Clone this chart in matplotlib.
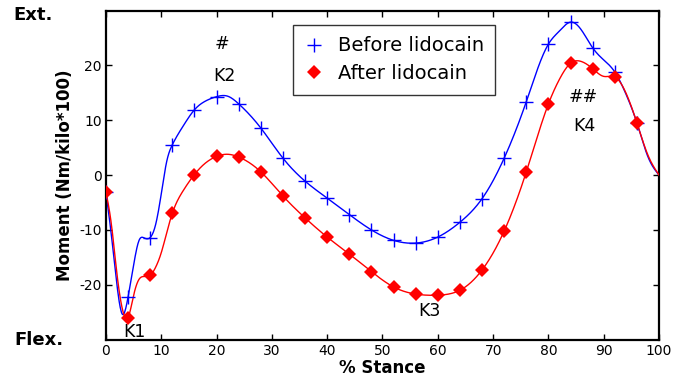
import numpy as np
import matplotlib
matplotlib.use('Agg')
import matplotlib.pyplot as plt
from matplotlib.lines import Line2D

stance = np.array([0, 1, 2, 3, 4, 5, 6, 7, 8, 9, 10, 11, 12, 14, 16, 18, 20, 22, 24,
                   28, 32, 36, 40, 44, 48, 52, 56, 60, 64, 68, 72, 76, 80, 82, 84,
                   86, 88, 90, 92, 94, 96, 98, 100])

before = np.array([-3.0, -11.0, -20.0, -25.4, -22.3, -16.5, -11.9, -11.5, -11.4, -9.0,
                   -3.5, 2.5, 5.5, 9.0, 11.9, 13.5, 14.3, 14.4, 13.0,
                   8.6, 3.1, -1.1, -4.2, -7.2, -10.0, -11.9, -12.4, -11.3, -8.6, -4.3,
                   3.1, 13.4, 23.9, 26.3, 27.9,
                   26.4, 23.2, 21.0, 18.8, 14.8, 9.5, 3.3, 0.0])

after = np.array([-3.0, -9.0, -18.0, -24.5, -26.0, -22.0, -19.0, -18.5, -18.3, -16.8,
                  -14.2, -10.5, -7.0, -2.8, 0.1, 2.2, 3.4, 3.8, 3.3,
                  0.6, -3.8, -7.8, -11.3, -14.4, -17.6, -20.4, -21.7, -21.9, -21.0, -17.3,
                  -10.2, 0.6, 13.0, 17.5, 20.4,
                  20.7, 19.4, 18.0, 17.9, 15.0, 9.5, 3.6, 0.0])

# markers every 4 % of stance
marker_step = 4
marker_last = 96


def natural_spline(x, y, xs):
    n = len(x)
    h = np.diff(x)
    A = np.zeros((n, n))
    b = np.zeros(n)
    A[0, 0] = 1
    A[-1, -1] = 1
    for i in range(1, n - 1):
        A[i, i - 1] = h[i - 1]
        A[i, i] = 2 * (h[i - 1] + h[i])
        A[i, i + 1] = h[i]
        b[i] = 6 * ((y[i + 1] - y[i]) / h[i] - (y[i] - y[i - 1]) / h[i - 1])
    M = np.linalg.solve(A, b)
    idx = np.clip(np.searchsorted(x, xs) - 1, 0, n - 2)
    x0, x1 = x[idx], x[idx + 1]
    hh = x1 - x0
    t0 = x1 - xs
    t1 = xs - x0
    return (M[idx] * t0 ** 3 / (6 * hh) + M[idx + 1] * t1 ** 3 / (6 * hh)
            + (y[idx] / hh - M[idx] * hh / 6) * t0
            + (y[idx + 1] / hh - M[idx + 1] * hh / 6) * t1)


xs = np.linspace(0, 100, 1001)
sel = (stance % marker_step == 0) & (stance <= marker_last)

plt.rcParams['font.family'] = 'DejaVu Sans'
plt.rcParams['axes.unicode_minus'] = False

fig = plt.figure(figsize=(6.83, 3.79), dpi=100)
ax = fig.add_axes([0.155, 0.104, 0.81, 0.868])

ax.plot(xs, natural_spline(stance, before, xs), color='#0000ff', lw=1.0, zorder=2)
ax.plot(xs, natural_spline(stance, after, xs), color='#ff0000', lw=1.0, zorder=3)
ax.plot(stance[sel], before[sel], ls='none', marker='+', ms=10, mew=1.0,
        color='#0000ff', zorder=4)
ax.plot(stance[sel], after[sel], ls='none', marker='D', ms=7, mew=0,
        color='#ff0000', zorder=5)

ax.set_xlim(0, 100)
ax.set_ylim(-30, 30)
ax.set_xticks(np.arange(0, 101, 10))
ax.set_yticks([-20, -10, 0, 10, 20])
ax.tick_params(direction='in', length=4, width=1, labelsize=10, top=True, right=True,
               pad=3)
for s in ax.spines.values():
    s.set_linewidth(1.6)

ax.set_xlabel('% Stance', fontsize=12, fontweight='bold', labelpad=1)
ax.set_ylabel('Moment (Nm/kilo*100)', fontsize=12, fontweight='bold', labelpad=4)

fig.text(0.048, 0.96, 'Ext.', fontsize=13, fontweight='bold', ha='center', va='center')
fig.text(0.057, 0.103, 'Flex.', fontsize=13, fontweight='bold', ha='center', va='center')

ax.text(21, 24, '#', fontsize=12.5, ha='center', va='center')
ax.text(21.5, 18, 'K2', fontsize=12.5, ha='center', va='center')
ax.text(5.2, -28.6, 'K1', fontsize=12.5, ha='center', va='center')
ax.text(58.5, -24.8, 'K3', fontsize=12.5, ha='center', va='center')
ax.text(86.3, 14.3, '##', fontsize=12.5, ha='center', va='center')
ax.text(86.5, 8.9, 'K4', fontsize=12.5, ha='center', va='center')

handles = [Line2D([], [], ls='none', marker='+', ms=10, mew=1.0, color='#0000ff'),
           Line2D([], [], ls='none', marker='D', ms=7, mew=0, color='#ff0000')]
leg = ax.legend(handles, ['Before lidocain', 'After lidocain'], loc='upper left',
                bbox_to_anchor=(0.338, 0.957), fontsize=14, frameon=True,
                fancybox=False, edgecolor='#333333', framealpha=1,
                handlelength=1.0, handletextpad=0.7, borderpad=0.6,
                labelspacing=0.45, borderaxespad=0)
leg.get_frame().set_linewidth(1.0)

fig.savefig('out.png', dpi=100)
